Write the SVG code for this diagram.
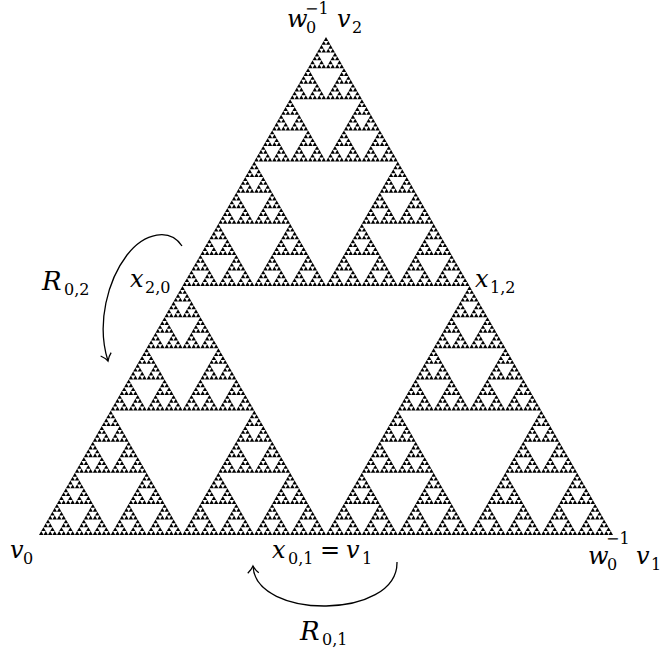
<svg xmlns="http://www.w3.org/2000/svg" xmlns:xlink="http://www.w3.org/1999/xlink" width="660" height="650" viewBox="0 0 660 650">
<style>
.lbl{font-family:'DejaVu Serif',serif;font-style:italic;font-size:24px;fill:#000}
.big{font-size:26px}
.rm{font-style:normal;font-size:16px}
.eq{font-style:normal;font-size:24px}
.arr{fill:none;stroke:#000;stroke-width:1.3;marker-end:url(#hook)}
</style>
<defs>
<marker id="hook" markerUnits="userSpaceOnUse" orient="auto" markerWidth="20" markerHeight="20" refX="0" refY="0" viewBox="-10 -10 20 20" overflow="visible">
<path d="M-7,-5.5 C-4,-2 -1,-0.5 0,0 C-1,0.5 -4,2 -7,5.5" fill="none" stroke="#000" stroke-width="1.3"/>
</marker>
<polygon id="t0" points="0,0 4.484375,0 2.2421875,-3.890625" fill="#000"/>
<g id="t1"><use xlink:href="#t0" href="#t0"/><use xlink:href="#t0" href="#t0" x="4.484375"/><use xlink:href="#t0" href="#t0" x="2.2421875" y="-3.890625"/></g>
<g id="t2"><use xlink:href="#t1" href="#t1"/><use xlink:href="#t1" href="#t1" x="8.96875"/><use xlink:href="#t1" href="#t1" x="4.484375" y="-7.78125"/></g>
<g id="t3"><use xlink:href="#t2" href="#t2"/><use xlink:href="#t2" href="#t2" x="17.9375"/><use xlink:href="#t2" href="#t2" x="8.96875" y="-15.5625"/></g>
<g id="t4"><use xlink:href="#t3" href="#t3"/><use xlink:href="#t3" href="#t3" x="35.875"/><use xlink:href="#t3" href="#t3" x="17.9375" y="-31.125"/></g>
<g id="t5"><use xlink:href="#t4" href="#t4"/><use xlink:href="#t4" href="#t4" x="71.75"/><use xlink:href="#t4" href="#t4" x="35.875" y="-62.25"/></g>
<g id="t6"><use xlink:href="#t5" href="#t5"/><use xlink:href="#t5" href="#t5" x="143.5"/><use xlink:href="#t5" href="#t5" x="71.75" y="-124.5"/></g>
<g id="t7"><use xlink:href="#t6" href="#t6"/><use xlink:href="#t6" href="#t6" x="287"/><use xlink:href="#t6" href="#t6" x="143.5" y="-249"/></g>
</defs>
<rect width="660" height="650" fill="#fff"/>
<g id="sierpinski"><use xlink:href="#t7" href="#t7" x="39" y="535"/></g>
<g id="connectors">
<path id="arrow-R02" class="arr" d="M182,246 C170,228 145,232 127,255 C108,280 96,323 108,361"/>
<path id="arrow-R01" class="arr" d="M397,562 C398,620 255,620 253,566"/>
</g>
<g id="node-top"><text class="lbl"><tspan x="287" y="27">w</tspan><tspan class="rm" x="306" y="33">0</tspan><tspan class="rm" x="305" y="14">−1</tspan><tspan x="337" y="27">v</tspan><tspan class="rm" x="352" y="33">2</tspan></text></g>
<g id="node-right"><text class="lbl"><tspan x="588" y="564">w</tspan><tspan class="rm" x="607" y="570">0</tspan><tspan class="rm" x="606" y="544">−1</tspan><tspan x="636" y="564">v</tspan><tspan class="rm" x="651" y="570">1</tspan></text></g>
<g id="node-v0"><text class="lbl"><tspan x="10" y="558">v</tspan><tspan class="rm" x="23" y="564">0</tspan></text></g>
<g id="node-x01"><text class="lbl"><tspan x="272" y="558">x</tspan><tspan class="rm" x="288" y="564">0,1</tspan><tspan class="eq" x="320" y="558">=</tspan><tspan x="346" y="558">v</tspan><tspan class="rm" x="362" y="564">1</tspan></text></g>
<g id="node-x20"><text class="lbl"><tspan x="130" y="287">x</tspan><tspan class="rm" x="145" y="293">2,0</tspan></text></g>
<g id="node-x12"><text class="lbl"><tspan x="475" y="287">x</tspan><tspan class="rm" x="490" y="293">1,2</tspan></text></g>
<g id="node-R02"><text class="lbl"><tspan class="big" x="42" y="290">R</tspan><tspan class="rm" x="64" y="295">0,2</tspan></text></g>
<g id="node-R01"><text class="lbl"><tspan class="big" x="300" y="640">R</tspan><tspan class="rm" x="322" y="645">0,1</tspan></text></g>
</svg>
